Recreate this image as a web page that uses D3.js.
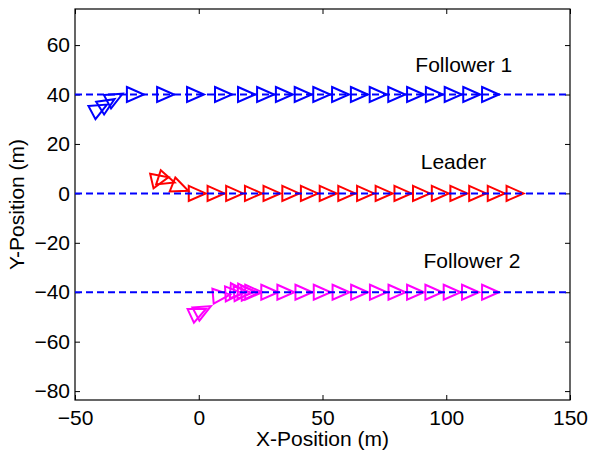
<!DOCTYPE html>
<html>
<head>
<meta charset="utf-8">
<script src="https://cdn.jsdelivr.net/npm/d3@7"></script>
<style>
  body { margin: 0; background: #fff; }
  text { font-family: "Liberation Sans", Arial, sans-serif; fill: #000; }
</style>
</head>
<body>
<div id="plot"></div>
<script>
// trajectories: x, y (m) and heading (deg) of each snapshot
var leaderX = [-15.8, -13.2, -7.6, -0.8, 6.8, 14.3, 21.9, 29.4, 37.0, 44.5, 52.1, 59.6, 67.2, 74.7, 82.3, 89.8, 97.4, 104.9, 112.5, 120.0, 127.6];
var leaderY = [5.7, 5.5, 2.4, 0, 0, 0, 0, 0, 0, 0, 0, 0, 0, 0, 0, 0, 0, 0, 0, 0, 0];
var leaderH = [13, -18, -22, 0, 0, 0, 0, 0, 0, 0, 0, 0, 0, 0, 0, 0, 0, 0, 0, 0, 0];

var f1X = [-40.3, -37.1, -34.0, -25.8, -13.6, -1.5, 9.8, 19.1, 26.8, 34.4, 42.0, 49.5, 57.1, 64.7, 72.3, 79.8, 87.4, 95.0, 102.6, 110.1, 117.7];
var f1Y = [34.2, 36.2, 38.6, 40, 40, 40, 40, 40, 40, 40, 40, 40, 40, 40, 40, 40, 40, 40, 40, 40, 40];
var f1H = [28, 32, 28, 0, 0, 0, 0, 0, 0, 0, 0, 0, 0, 0, 0, 0, 0, 0, 0, 0, 0];

var f2X = [-0.3, 1.7, 9.0, 14.0, 16.0, 17.5, 19.0, 20.5, 22.0, 28.5, 35.0, 42.3, 49.7, 57.3, 64.8, 72.4, 79.9, 87.4, 94.8, 102.2, 109.6, 117.7];
var f2Y = [-48.2, -47.3, -41.3, -40.5, -39.6, -40.4, -39.7, -40.3, -40, -40, -40, -40, -40, -40, -40, -40, -40, -40, -40, -40, -40, -40];
var f2H = [25, 28, 5, 3, -4, 4, -3, 2, 0, 0, 0, 0, 0, 0, 0, 0, 0, 0, 0, 0, 0, 0];

// formation reference lines
var refLines = [40, 0, -40];

var xTicks = [-50, 0, 50, 100, 150];
var yTicks = [-80, -60, -40, -20, 0, 20, 40, 60];

var labels = [
  {text: "Follower 1", x: 87.5, y: 49},
  {text: "Leader", x: 89.7, y: 9.7},
  {text: "Follower 2", x: 90.8, y: -30}
];

var margin = {top: 9, right: 19, bottom: 53, left: 75},
    width = 589 - margin.left - margin.right,
    height = 453 - margin.top - margin.bottom;

var svg = d3.select("#plot")
  .append("svg")
  .attr("width", width + margin.left + margin.right)
  .attr("height", height + margin.top + margin.bottom)
  .append("g")
  .attr("transform", "translate(" + margin.left + "," + margin.top + ")");

var x = d3.scaleLinear().domain([-50, 150]).range([0, width]);
var y = d3.scaleLinear().domain([-83.6, 74.6]).range([height, 0]);

// axes with inward ticks (matlab look)
var tick = 5;
svg.append("g")
  .attr("transform", "translate(0," + height + ")")
  .call(d3.axisBottom(x).tickValues(xTicks).tickSize(-tick).tickPadding(10))
  .call(function(g) { g.select(".domain").remove(); });
svg.append("g")
  .call(d3.axisTop(x).tickValues(xTicks).tickSize(-tick).tickFormat(""))
  .call(function(g) { g.select(".domain").remove(); });
svg.append("g")
  .call(d3.axisLeft(y).tickValues(yTicks).tickSize(-tick).tickPadding(5))
  .call(function(g) { g.select(".domain").remove(); });
svg.append("g")
  .attr("transform", "translate(" + width + ",0)")
  .call(d3.axisRight(y).tickValues(yTicks).tickSize(-tick).tickFormat(""))
  .call(function(g) { g.select(".domain").remove(); });

svg.selectAll(".tick text")
  .style("font-size", "21px")
  .style("font-family", "'Liberation Sans', Arial, sans-serif")
  .attr("fill", "#000");
svg.selectAll(".tick line").attr("stroke", "#000");

// box
svg.append("rect")
  .attr("width", width)
  .attr("height", height)
  .attr("fill", "none")
  .attr("stroke", "#000")
  .attr("stroke-width", 1.2);

// triangle marker pointing along heading
var tri = "M-8,-7.5L9,0L-8,7.5Z";

function drawAgent(xs, ys, hs, color) {
  var pts = xs.map(function(d, i) { return [d, ys[i], hs[i]]; });
  svg.append("g")
    .selectAll("path")
    .data(pts)
    .enter()
    .append("path")
    .attr("d", tri)
    .attr("transform", function(d) {
      return "translate(" + x(d[0]) + "," + y(d[1]) + ") rotate(" + (-d[2]) + ")";
    })
    .attr("fill", "none")
    .attr("stroke", color)
    .attr("stroke-width", 2)
    .attr("stroke-linejoin", "miter");
}

drawAgent(f1X, f1Y, f1H, "#0000ff");
drawAgent(leaderX, leaderY, leaderH, "#ff0000");
drawAgent(f2X, f2Y, f2H, "#ff00ff");

svg.append("g")
  .selectAll("line")
  .data(refLines)
  .enter()
  .append("line")
  .attr("x1", 0)
  .attr("x2", width)
  .attr("y1", function(d) { return y(d); })
  .attr("y2", function(d) { return y(d); })
  .attr("stroke", "#0000ff")
  .attr("stroke-width", 2)
  .attr("stroke-dasharray", "7,4");

svg.selectAll(".label")
  .data(labels)
  .enter()
  .append("text")
  .attr("class", "label")
  .attr("x", function(d) { return x(d.x); })
  .attr("y", function(d) { return y(d.y); })
  .style("font-size", "21px")
  .text(function(d) { return d.text; });

// axis titles
svg.append("text")
  .attr("text-anchor", "middle")
  .attr("x", width / 2)
  .attr("y", height + 46)
  .style("font-size", "21px")
  .text("X-Position (m)");

svg.append("text")
  .attr("text-anchor", "middle")
  .attr("transform", "translate(" + (-51) + "," + (height / 2) + ") rotate(-90)")
  .style("font-size", "21px")
  .text("Y-Position (m)");
</script>
</body>
</html>
